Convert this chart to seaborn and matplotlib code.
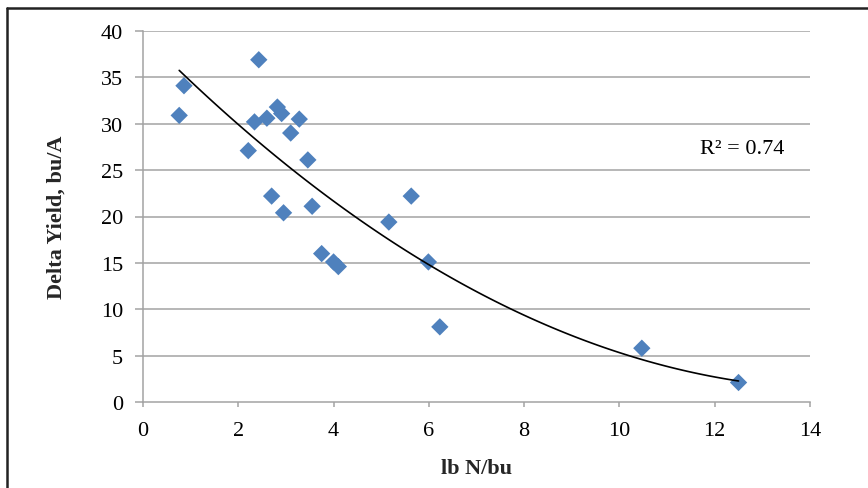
import numpy as np
import pandas as pd
import matplotlib
matplotlib.use("Agg")
import matplotlib.pyplot as plt
from matplotlib.lines import Line2D
import seaborn as sns

lb_n_per_bu = [0.76, 0.86, 2.21, 2.34, 2.43, 2.60, 2.70, 2.82, 2.91, 2.95, 3.10,
               3.28, 3.46, 3.55, 3.75, 4.00, 4.10, 5.16, 5.63, 5.99, 6.23, 10.47, 12.50]
delta_yield = [30.9, 34.1, 27.1, 30.2, 36.9, 30.6, 22.2, 31.8, 31.1, 20.4, 29.0,
               30.5, 26.1, 21.1, 16.0, 15.1, 14.6, 19.4, 22.2, 15.1, 8.1, 5.8, 2.1]
x_ticks = [0, 2, 4, 6, 8, 10, 12, 14]
y_ticks = [0, 5, 10, 15, 20, 25, 30, 35, 40]
r2_label = "R² = 0.74"

df = pd.DataFrame({"x": lb_n_per_bu, "y": delta_yield})

sns.set_theme(style="white")
plt.rcParams["font.family"] = ["Liberation Serif", "DejaVu Serif"]

W, H = 868, 489
fig = plt.figure(figsize=(W / 100, H / 100), dpi=100)
ax = fig.add_axes([143 / W, 1 - 403 / H, (810 - 143) / W, (403 - 32) / H])

grid_c = "#A3A3A3"
for yt in y_ticks[1:]:
    ax.axhline(yt, color=grid_c, lw=1.1, zorder=0)

sns.scatterplot(data=df, x="x", y="y", marker="D", s=78, color="#4F81BD",
                edgecolor="none", ax=ax, zorder=3)
sns.regplot(data=df, x="x", y="y", order=2, ci=None, scatter=False,
            truncate=True, line_kws={"color": "black", "lw": 1.2, "zorder": 4}, ax=ax)

ax.set_xlim(0, 14)
ax.set_ylim(0, 40)
ax.set_xticks(x_ticks)
ax.set_yticks(y_ticks)
ax.set_xticklabels([str(t) for t in x_ticks])
ax.set_yticklabels([str(t) for t in y_ticks])
ax.tick_params(axis="both", labelsize=16, colors=grid_c, labelcolor="black",
               width=1.1, direction="out")
ax.tick_params(axis="y", pad=8.5, length=5.8, left=True)
ax.tick_params(axis="x", pad=10, length=3.6, bottom=True)

for s in ["top", "right"]:
    ax.spines[s].set_visible(False)
for s in ["left", "bottom"]:
    ax.spines[s].set_color(grid_c)
    ax.spines[s].set_linewidth(1.1)

ax.set_xlabel("lb N/bu", fontsize=16, fontweight="bold", labelpad=13)
ax.set_ylabel("Delta Yield, bu/A", fontsize=16, fontweight="bold", labelpad=25)

ax.text(11.7, 27.3, r2_label, fontsize=16, va="center", ha="left", color="black")

# frame lines
fig.add_artist(Line2D([7 / W, 1], [1 - 9 / H, 1 - 9 / H], color="#222222", lw=1.8,
                      transform=fig.transFigure))
fig.add_artist(Line2D([7 / W, 7 / W], [0, 1 - 9 / H], color="#222222", lw=1.8,
                      transform=fig.transFigure))

fig.savefig("out.png", dpi=100)
